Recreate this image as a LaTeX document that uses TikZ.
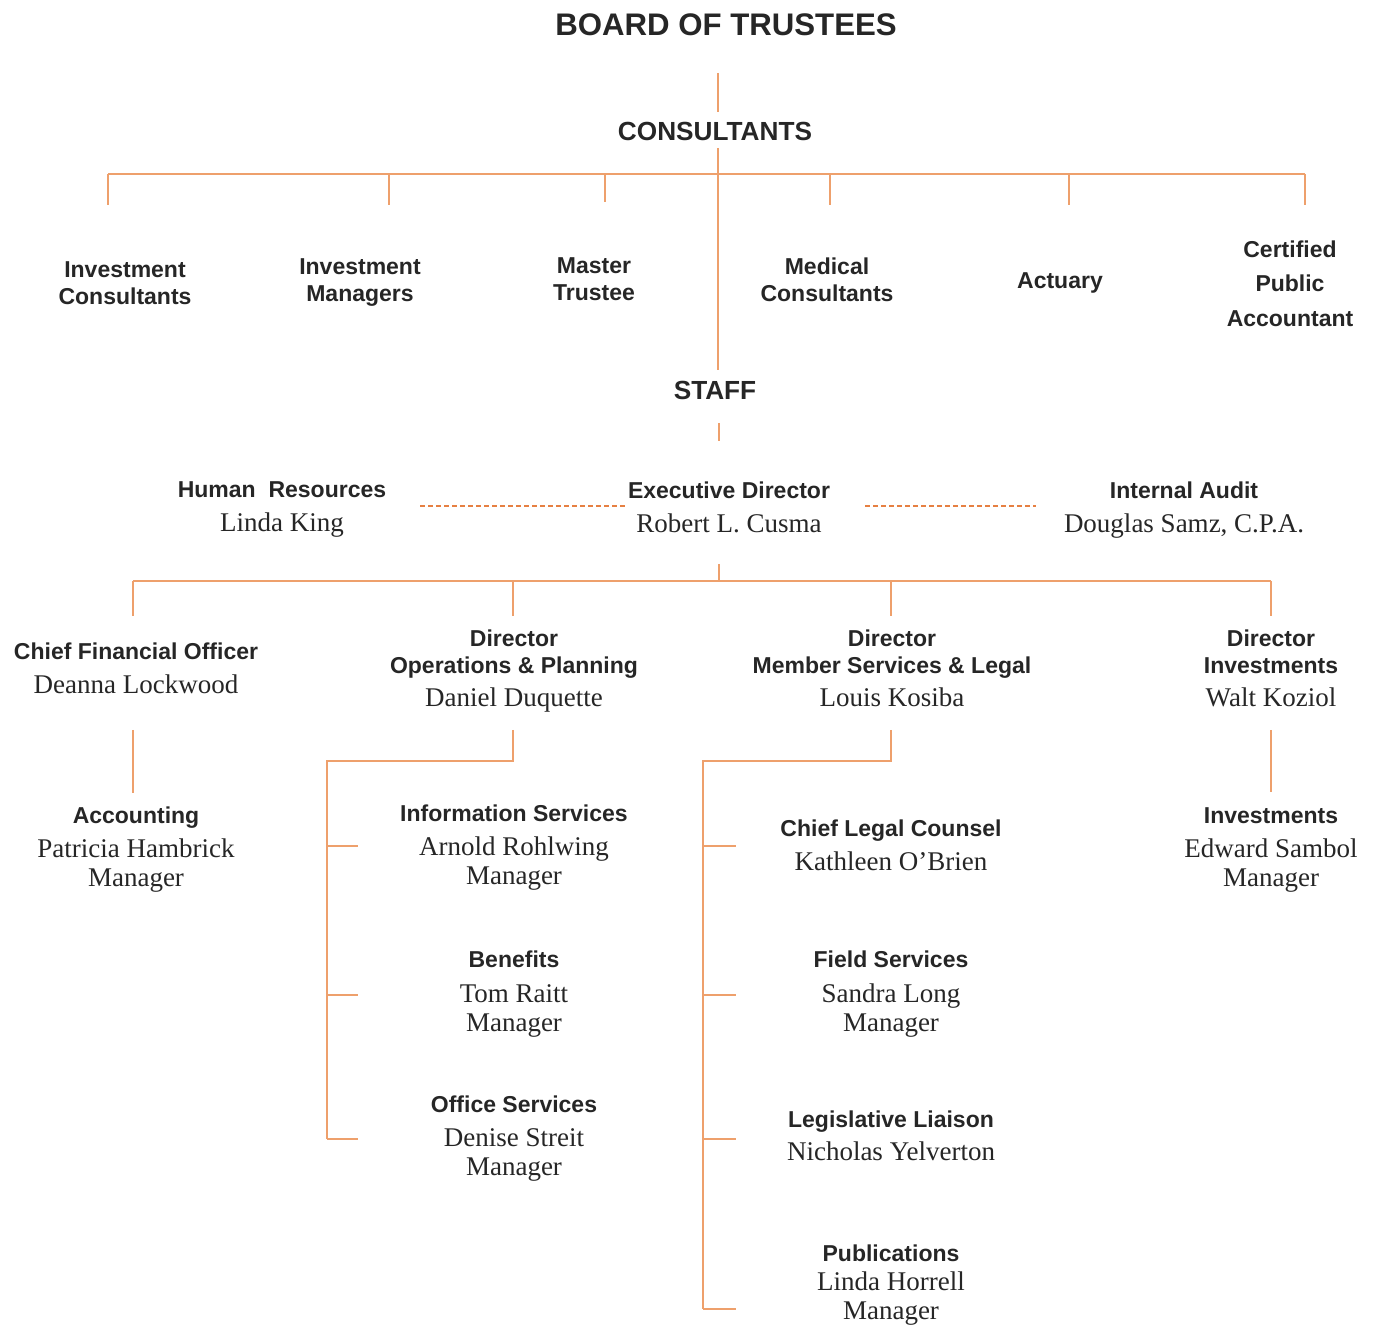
\documentclass[tikz,border=0pt]{standalone}
\usepackage{fontspec}
\setmainfont{Liberation Serif}
\setsansfont{Liberation Sans}
\definecolor{orgline}{RGB}{238,160,108}
\definecolor{orgdash}{RGB}{230,128,66}
\tikzset{
    head/.style = {
        anchor     = base,
        inner sep  = 0pt,
        font       = \fontsize{11.5}{13}\sffamily\bfseries,
        text       = black!85,
    },
    who/.style = {
        anchor     = base,
        inner sep  = 0pt,
        font       = \fontsize{13.5}{15}\selectfont,
        text       = black!85,
    },
    link/.style = {
        draw       = orgline,
        line width = 0.7pt,
    },
    aside/.style = {
        draw         = orgdash,
        line width   = 0.6pt,
        dash pattern = on 2.6pt off 1.4pt,
    }
}

\begin{document}
\begin{tikzpicture}[x=0.5pt, y=-0.5pt]
  % fixed frame, same size as the chart
  \path[use as bounding box] (0,0) rectangle (1377,1325);

  % board and consultants
  \node[head, font=\fontsize{15.6}{18}\sffamily\bfseries] (board) at (726,36) {BOARD OF TRUSTEES};
  \node[head, font=\fontsize{13.1}{15}\sffamily\bfseries] (cons) at (715,141) {CONSULTANTS};
  \node[head, font=\fontsize{13.1}{15}\sffamily\bfseries] (staff) at (715,400) {STAFF};

  \node[head] (ic1) at (125,278) {Investment};
  \node[head] (ic2) at (125,305) {Consultants};
  \node[head] (im1) at (360,275) {Investment};
  \node[head] (im2) at (360,302) {Managers};
  \node[head] (mt1) at (594,274) {Master};
  \node[head] (mt2) at (594,301) {Trustee};
  \node[head] (mc1) at (827,275) {Medical};
  \node[head] (mc2) at (827,302) {Consultants};
  \node[head] (act) at (1060,289) {Actuary};
  \node[head] (cpa1) at (1290,258) {Certified};
  \node[head] (cpa2) at (1290,292) {Public};
  \node[head] (cpa3) at (1290,327) {Accountant};

  \coordinate (top) at (718,73);
  \coordinate (topend) at (718,112);
  \coordinate (consout) at (718,148);
  \coordinate (bus) at (718,174);
  \coordinate (staffin) at (718,370);
  \draw[link] (top) -- (topend);
  \draw[link] (consout) -- (staffin);
  \draw[link] (108,174) coordinate (busl) -- (1305,174) coordinate (busr);
  \foreach \x/\l in {108/205, 389/205, 605/202, 830/205, 1069/205, 1305/205}
    \draw[link] (\x,174) -- (\x,\l);

  % staff level
  \node[head] (hr) at (282,498) {Human\ \ Resources};
  \node[who]  (hrn) at (282,532) {Linda King};
  \node[head] (ed) at (729,499) {Executive Director};
  \node[who]  (edn) at (729,533) {Robert L. Cusma};
  \node[head] (ia) at (1184,499) {Internal Audit};
  \node[who]  (ian) at (1184,533) {Douglas Samz, C.P.A.};

  \coordinate (staffout) at (719,423);
  \coordinate (edin) at (719,441);
  \draw[link] (staffout) -- (edin);
  \coordinate (hrr) at (420,506);
  \coordinate (edl) at (625,506);
  \coordinate (edr) at (865,506);
  \coordinate (ial) at (1036,506);
  \draw[aside] (hrr) -- (edl);
  \draw[aside] (edr) -- (ial);

  % directors
  \node[head] (cfo) at (136,660) {Chief Financial Officer};
  \node[who]  (cfon) at (136,694) {Deanna Lockwood};
  \node[head] (dop1) at (514,647) {Director};
  \node[head] (dop2) at (514,674) {Operations \& Planning};
  \node[who]  (dopn) at (514,707) {Daniel Duquette};
  \node[head] (dms1) at (892,647) {Director};
  \node[head] (dms2) at (892,674) {Member Services \& Legal};
  \node[who]  (dmsn) at (892,707) {Louis Kosiba};
  \node[head] (din1) at (1271,647) {Director};
  \node[head] (din2) at (1271,674) {Investments};
  \node[who]  (dinn) at (1271,707) {Walt Koziol};

  \coordinate (edout) at (719,564);
  \coordinate (dbus) at (719,581);
  \draw[link] (edout) -- (dbus);
  \draw[link] (133,581) -- (1271,581);
  \foreach \x in {133, 513, 891, 1271}
    \draw[link] (\x,581) -- (\x,616);

  % managers
  \node[head] (acc) at (136,824) {Accounting};
  \node[who]  (accn) at (136,858) {Patricia Hambrick};
  \node[who]  (accm) at (136,887) {Manager};

  \node[head] (is) at (514,822) {Information Services};
  \node[who]  (isn) at (514,856) {Arnold Rohlwing};
  \node[who]  (ism) at (514,885) {Manager};
  \node[head] (ben) at (514,968) {Benefits};
  \node[who]  (benn) at (514,1002) {Tom Raitt};
  \node[who]  (benm) at (514,1031) {Manager};
  \node[head] (os) at (514,1112) {Office Services};
  \node[who]  (osn) at (514,1146) {Denise Streit};
  \node[who]  (osm) at (514,1175) {Manager};

  \node[head] (clc) at (891,837) {Chief Legal Counsel};
  \node[who]  (clcn) at (891,871) {Kathleen O’Brien};
  \node[head] (fs) at (891,968) {Field Services};
  \node[who]  (fsn) at (891,1002) {Sandra Long};
  \node[who]  (fsm) at (891,1031) {Manager};
  \node[head] (ll) at (891,1127) {Legislative Liaison};
  \node[who]  (lln) at (891,1160) {Nicholas Yelverton};
  \node[head] (pub) at (891,1261) {Publications};
  \node[who]  (pubn) at (891,1290) {Linda Horrell};
  \node[who]  (pubm) at (891,1319) {Manager};

  \node[head] (inv) at (1271,824) {Investments};
  \node[who]  (invn) at (1271,858) {Edward Sambol};
  \node[who]  (invm) at (1271,887) {Manager};

  \draw[link] (133,730) -- (133,793);
  \draw[link] (1271,730) -- (1271,792);
  \draw[link] (513,730) -- (513,761) -- (327,761) -- (327,1139);
  \foreach \y in {846, 995, 1139}
    \draw[link] (327,\y) -- (358,\y);
  \draw[link] (891,730) -- (891,761) -- (703,761) -- (703,1309);
  \foreach \y in {846, 995, 1139, 1309}
    \draw[link] (703,\y) -- (736,\y);
\end{tikzpicture}
\end{document}
